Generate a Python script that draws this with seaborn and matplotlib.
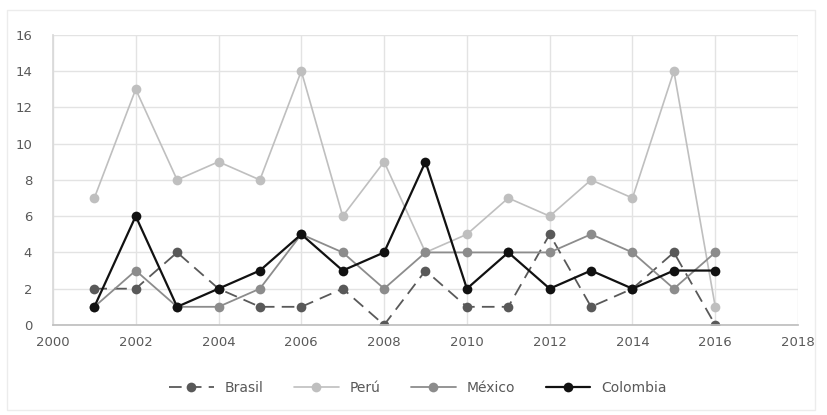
import matplotlib
matplotlib.use("Agg")
import matplotlib.pyplot as plt
import seaborn as sns
import pandas as pd
from matplotlib.patches import Rectangle

years = list(range(2001, 2017))
brasil = [2, 2, 4, 2, 1, 1, 2, 0, 3, 1, 1, 5, 1, 2, 4, 0]
peru = [7, 13, 8, 9, 8, 14, 6, 9, 4, 5, 7, 6, 8, 7, 14, 1]
mexico = [1, 3, 1, 1, 2, 5, 4, 2, 4, 4, 4, 4, 5, 4, 2, 4]
colombia = [1, 6, 1, 2, 3, 5, 3, 4, 9, 2, 4, 2, 3, 2, 3, 3]

series = [
    ("Brasil", brasil, "#595959", (0, (7, 4)), 1.3),
    ("Perú", peru, "#bfbfbf", "-", 1.2),
    ("México", mexico, "#8c8c8c", "-", 1.3),
    ("Colombia", colombia, "#111111", "-", 1.6),
]

sns.set_theme(style="white")
plt.rcParams["font.family"] = ["DejaVu Sans"]

fig = plt.figure(figsize=(8.27, 4.15), dpi=100)
ax = fig.add_axes([0.064, 0.217, 0.901, 0.699])

# faint outer frame of the chart area
fig.patches.append(Rectangle((0.009, 0.012), 0.977, 0.965, transform=fig.transFigure,
                             fill=False, edgecolor="#ececec", linewidth=1))

for name, vals, color, ls, lw in series:
    df = pd.DataFrame({"Año": years, "Valor": vals})
    sns.lineplot(data=df, x="Año", y="Valor", ax=ax, color=color, linestyle=ls,
                 linewidth=lw, marker="o", markersize=7, markeredgewidth=0,
                 markerfacecolor=color, label=name)

ax.set_xlim(2000, 2018)
ax.set_ylim(0, 16)
ax.set_xticks(range(2000, 2019, 2))
ax.set_yticks(range(0, 17, 2))
ax.grid(True, color="#e3e3e3", linewidth=1)
ax.set_axisbelow(True)
ax.set_xlabel("")
ax.set_ylabel("")
for s in ["top", "right"]:
    ax.spines[s].set_visible(False)
ax.spines["left"].set_color("#d9d9d9")
ax.spines["bottom"].set_color("#bfbfbf")
ax.tick_params(axis="both", length=0, labelsize=9.5, colors="#595959")
ax.tick_params(axis="x", pad=8)
ax.tick_params(axis="y", pad=15)

ax.legend(loc="upper center", bbox_to_anchor=(0.49, -0.15), ncol=4, frameon=False,
          fontsize=10, handlelength=3.2, columnspacing=2.2, labelcolor="#595959")

fig.savefig("out.png", dpi=100)
